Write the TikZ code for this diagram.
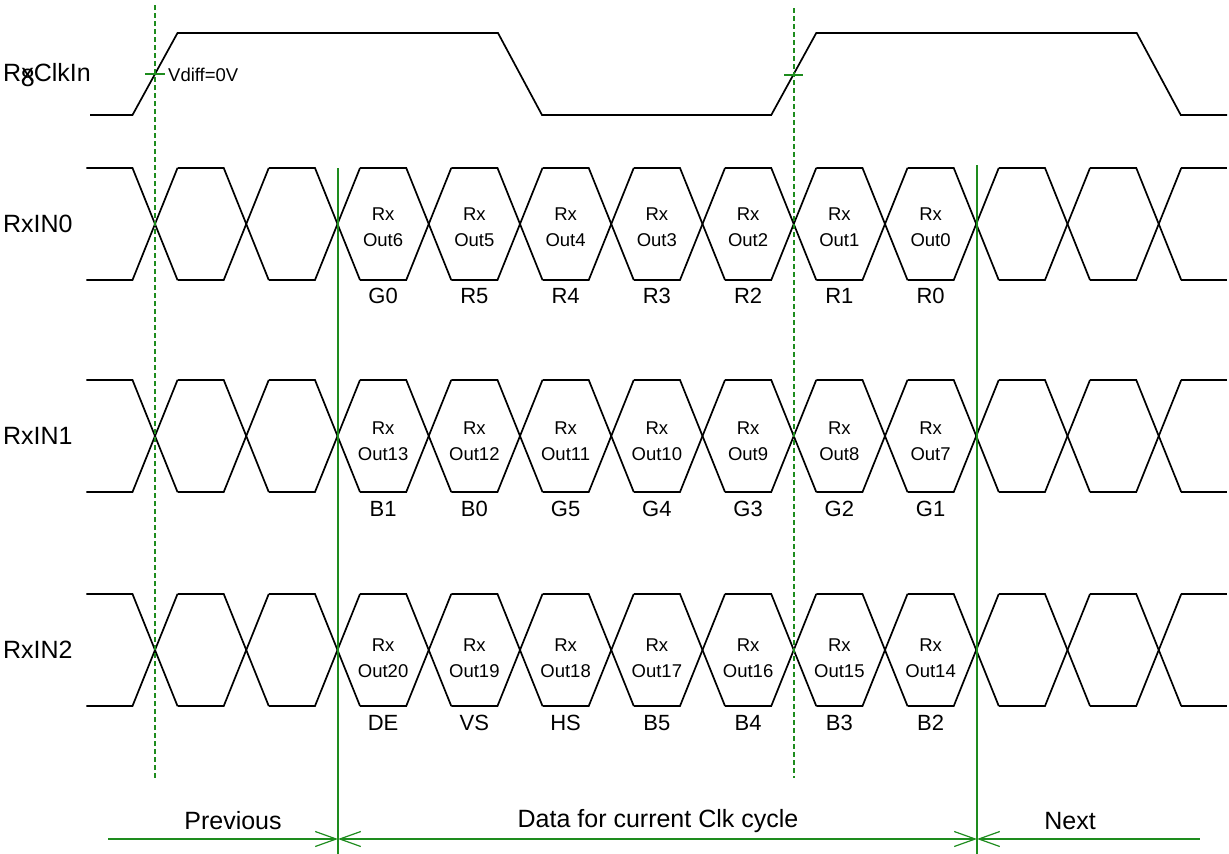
\documentclass[tikz,border=0pt]{standalone}
\usepackage{fontspec}
\setmainfont{Liberation Sans}
\usepackage{xcolor}
\usetikzlibrary{arrows.meta}
\definecolor{markgreen}{RGB}{30,140,30}

\begin{document}
\begin{tikzpicture}[x=1pt,y=-1pt,
    trace/.style={line width=1.7pt,black},
    guide/.style={line width=1.4pt,markgreen},
    dguide/.style={guide,dash pattern=on 5pt off 3pt},
    rowlbl/.style={anchor=west,inner sep=0pt,font=\fontsize{25}{30}\selectfont},
    bitlbl/.style={align=center,inner sep=0pt,font=\fontsize{18.5}{26}\selectfont},
    namelbl/.style={inner sep=0pt,font=\fontsize{22}{26}\selectfont},
    spanlbl/.style={inner sep=0pt,font=\fontsize{25}{30}\selectfont},
    barb/.tip={Straight Barb[length=21pt,width=15pt,line width=1.2pt]}]
    \useasboundingbox (0,0) rectangle (1229,854);
    % clock
    \draw[trace] (90,115) -- (132.5,115) -- (177.5,33) -- (498,33) -- (542,115) -- (771.25,115) -- (816.25,33) -- (1136.75,33) -- (1180.75,115) -- (1227,115);
    \node[rowlbl] (clklbl) at (3,75) {R\rlap{\hspace{-0.5pt}\raisebox{-5pt}{8}}xClkIn};
    \node[anchor=west,inner sep=0pt,font=\fontsize{18.5}{22}\selectfont] (vdiff) at (168,75) {Vdiff=0V};
    \draw[guide] (145,74) -- (165,74);
    \draw[guide] (784,75) -- (803,75);
    % data lanes
    \foreach \yc/\lbl in {224/RxIN0,436/RxIN1,650/RxIN2} {
        \node[rowlbl] (lbl\lbl) at (3,\yc) {\lbl};
        \foreach \i in {0,...,11} {
            \pgfmathsetmacro\c{155+91.25*\i}
            \draw[trace] (\c-68.75,\yc-56) -- (\c-22.5,\yc-56) -- (\c+22.5,\yc+56);
            \draw[trace] (\c-68.75,\yc+56) -- (\c-22.5,\yc+56) -- (\c+22.5,\yc-56);
        }
        \draw[trace] (1181.25,\yc-56) -- (1227,\yc-56);
        \draw[trace] (1181.25,\yc+56) -- (1227,\yc+56);
    }
    \foreach \k/\nm [count=\j from 0] in {6/G0,5/R5,4/R4,3/R3,2/R2,1/R1,0/R0} {
        \node[bitlbl] (out\k) at (383.1+91.25*\j,227) {Rx\\Out\k};
        \node[namelbl] (nm\k) at (383.1+91.25*\j,296) {\nm};
    }
    \foreach \k/\nm [count=\j from 0] in {13/B1,12/B0,11/G5,10/G4,9/G3,8/G2,7/G1} {
        \node[bitlbl] (out\k) at (383.1+91.25*\j,441) {Rx\\Out\k};
        \node[namelbl] (nm\k) at (383.1+91.25*\j,509) {\nm};
    }
    \foreach \k/\nm [count=\j from 0] in {20/DE,19/VS,18/HS,17/B5,16/B4,15/B3,14/B2} {
        \node[bitlbl] (out\k) at (383.1+91.25*\j,658) {Rx\\Out\k};
        \node[namelbl] (nm\k) at (383.1+91.25*\j,723) {\nm};
    }
    % markers
    \draw[dguide] (155,5) -- (155,778);
    \draw[dguide] (794,8) -- (794,778);
    \draw[guide] (338,168) -- (338,854);
    \draw[guide] (977,165) -- (977,854);
    % spans
    \coordinate (pstart) at (108,839);
    \coordinate (dstart) at (338,839);
    \coordinate (dend) at (977,839);
    \coordinate (nend) at (1200,839);
    \draw[guide,-barb] (pstart) -- (dstart);
    \draw[guide,barb-barb] (dstart) -- (dend);
    \draw[guide,barb-] (dend) -- (nend);
    \node[spanlbl] (prev) at (233,821) {Previous};
    \node[spanlbl] (cur) at (658,821) {Data for current Clk cycle};
    \node[spanlbl] (next) at (1070,821) {Next};
\end{tikzpicture}
\end{document}
